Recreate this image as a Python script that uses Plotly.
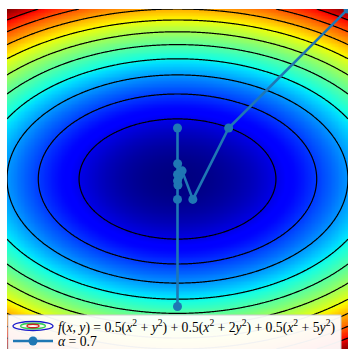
import numpy as np
import plotly.graph_objects as go

# ---- data ----
coef_x = [0.5, 0.5, 0.5]          # f = sum c*(x^2 + k*y^2)
coef_y = [1, 2, 5]
grid_x = np.linspace(-2, 2, 241)
grid_y = np.linspace(-2, 2, 241)
contour_start, contour_end, contour_step = 2, 20, 2
z_min, z_max = 0, 22

# optimisation path
path_x = [2.0, 0.6, 0.18, 0.054, 0.016, 0.005, 0.0015, 0.0005, 0.0002, 0.0, 0.0, 0.0]
path_y = [2.0, 0.6, -0.24, 0.096, 0.029, -0.072, 0.18, 0.054, -0.022, -0.24, 0.6, -1.5]

label_f = ("<i>f</i>(<i>x</i>, <i>y</i>) = 0.5(<i>x</i><sup>2</sup> + <i>y</i><sup>2</sup>) + "
           "0.5(<i>x</i><sup>2</sup> + 2<i>y</i><sup>2</sup>) + 0.5(<i>x</i><sup>2</sup> + 5<i>y</i><sup>2</sup>)")
label_a = "<i>α</i> = 0.7"

# ---- surface ----
X, Y = np.meshgrid(grid_x, grid_y)
Z = sum(c * (X**2 + k * Y**2) for c, k in zip(coef_x, coef_y))

# matplotlib 'jet'
red = [(0, 0), (0.35, 0), (0.66, 1), (0.89, 1), (1, 0.5)]
green = [(0, 0), (0.125, 0), (0.375, 1), (0.64, 1), (0.91, 0), (1, 0)]
blue = [(0, 0.5), (0.11, 1), (0.34, 1), (0.65, 0), (1, 0)]
ts = np.linspace(0, 1, 101)
def ch(seg, t):
    a = np.array(seg)
    return np.interp(t, a[:, 0], a[:, 1])
jet = [[float(t), "rgb(%d,%d,%d)" % (round(255 * ch(red, t)), round(255 * ch(green, t)), round(255 * ch(blue, t)))] for t in ts]

fig = go.Figure()
fig.add_trace(go.Heatmap(x=grid_x, y=grid_y, z=Z, colorscale=jet, zmin=z_min, zmax=z_max,
                         showscale=False, zsmooth="best", hoverinfo="skip"))
fig.add_trace(go.Contour(x=grid_x, y=grid_y, z=Z, showscale=False,
                         contours=dict(coloring="none", start=contour_start, end=contour_end, size=contour_step),
                         line=dict(color="black", width=1.2), hoverinfo="skip"))
C0 = "#1f77b4"
fig.add_trace(go.Scatter(x=path_x, y=path_y, mode="lines+markers",
                         line=dict(color=C0, width=2.6), marker=dict(color=C0, size=9)))

W, H = 350, 349
L, R, T, B = 7, 2, 9, 0
pw, ph = W - L - R, H - T - B
def px(xp): return (xp - L) / pw
def py(yp): return (H - B - yp) / ph

shapes = []
# legend frame
shapes.append(dict(type="rect", xref="paper", yref="paper", x0=px(8), x1=px(341), y0=py(352), y1=py(315),
                   fillcolor="rgba(255,255,255,0.95)", line=dict(color="#cccccc", width=1), layer="above"))
# contour icon
cx, cy = 33, 326
for w, h, col in [(40, 9, "#1a1acc"), (25, 5.5, "#33cc55"), (12, 3.5, "#cc2222")]:
    shapes.append(dict(type="circle", xref="paper", yref="paper", x0=px(cx - w / 2), x1=px(cx + w / 2),
                       y0=py(cy + h / 2), y1=py(cy - h / 2), line=dict(color=col, width=1.3), layer="above"))
# line icon
shapes.append(dict(type="line", xref="paper", yref="paper", x0=px(13), x1=px(53), y0=py(341), y1=py(341),
                   line=dict(color=C0, width=2.6), layer="above"))
shapes.append(dict(type="circle", xref="paper", yref="paper", x0=px(28.5), x1=px(37.5), y0=py(345.5), y1=py(336.5),
                   fillcolor=C0, line=dict(color=C0, width=0), layer="above"))

annotations = [
    dict(x=px(56), y=py(326), xref="paper", yref="paper", text=label_f, showarrow=False, xanchor="left",
         yanchor="middle", font=dict(family="Liberation Serif", size=13.7, color="black")),
    dict(x=px(56), y=py(341), xref="paper", yref="paper", text=label_a, showarrow=False, xanchor="left",
         yanchor="middle", font=dict(family="Liberation Serif", size=13.7, color="black")),
]

fig.update_layout(width=W, height=H, autosize=False, margin=dict(l=L, r=R, t=T, b=B, pad=0),
                  paper_bgcolor="white", plot_bgcolor="white", showlegend=False,
                  shapes=shapes, annotations=annotations)
fig.update_xaxes(range=[-2, 2], visible=False, showgrid=False, zeroline=False)
fig.update_yaxes(range=[-2, 2], visible=False, showgrid=False, zeroline=False)
fig.write_html("out.html")
